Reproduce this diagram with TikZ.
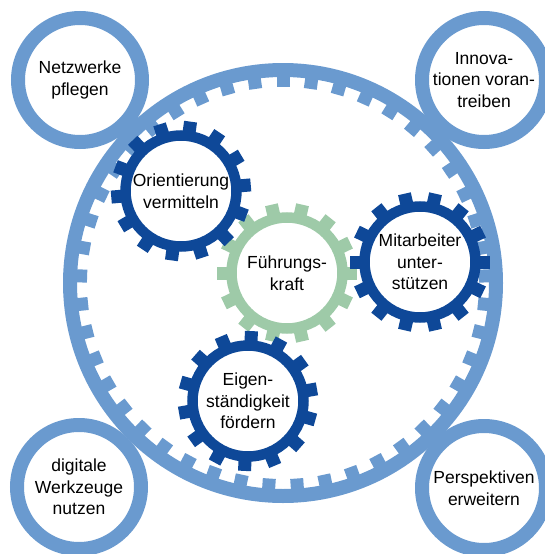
\documentclass[tikz,border=0pt]{standalone}
\usepackage{fontspec}
\setmainfont{Liberation Sans}
\definecolor{ringblue}{RGB}{106,154,207}
\definecolor{gearblue}{RGB}{14,72,152}
\definecolor{geargreen}{RGB}{158,202,168}

\begin{document}
\begin{tikzpicture}[x=1pt,y=-1pt]
	\tikzstyle{label}=[align=center,font=\fontsize{17.5}{21.5}\selectfont,inner sep=0pt]
	\tikzstyle{corner}=[label,circle,draw=ringblue,line width=14pt,minimum size=124pt]
	\tikzstyle{gear}=[label,circle,line width=10.5pt,minimum size=111pt]
	\useasboundingbox (0,0) rectangle (545,554);
	\coordinate (c) at (283,283);
	\draw[ringblue,line width=14pt] (c) circle (213);
	\foreach \a in {0,...,44}
		\fill[ringblue,shift={(c)},rotate=\a*8+2] (196,-6.5) rectangle (207,6.5);
	\node[corner] (netz) at (80,80) {Netzwerke\\pflegen};
	\node[corner] (innov) at (484,80) {Innova-\\tionen voran-\\treiben};
	\node[corner] (digital) at (79,487) {digitale\\Werkzeuge\\nutzen};
	\node[corner] (persp) at (484,488) {Perspektiven\\erweitern};
	\node[gear,draw=geargreen] (fk) at (287,273) {Führungs-\\kraft};
	\foreach \a in {0,...,13}
		\fill[geargreen,shift={(fk.center)},rotate=\a*360/14] (58,-6.5) rectangle (70,6.5);
	\node[gear,draw=gearblue] (ori) at (181,191) {Orientierung\\vermitteln};
	\node[gear,draw=gearblue] (mit) at (420,262) {Mitarbeiter\\unter-\\stützen};
	\node[gear,draw=gearblue] (eig) at (248,401) {Eigen-\\ständigkeit\\fördern};
	\foreach \g/\o in {ori/5,mit/0,eig/10}
		\foreach \a in {0,...,13}
			\fill[gearblue,shift={(\g.center)},rotate=\a*360/14+\o] (58,-6.5) rectangle (70,6.5);
\end{tikzpicture}
\end{document}
